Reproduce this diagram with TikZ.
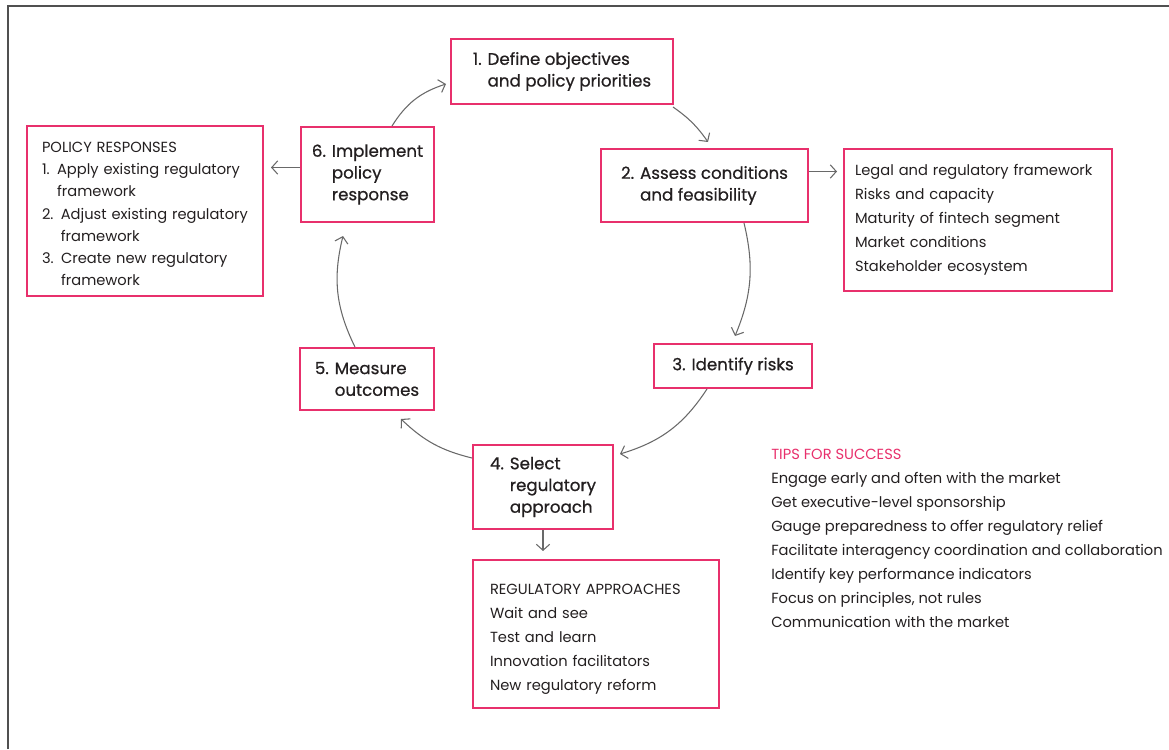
\documentclass[tikz,border=0pt]{standalone}
\usepackage{fontspec}
\setmainfont{Poppins}
\newfontfamily\stepfam{Poppins}[FakeBold=0.7]
\usetikzlibrary{arrows.meta,calc}
\definecolor{pinkline}{RGB}{232,48,108}
\definecolor{ink}{RGB}{35,31,32}
\definecolor{arrowgray}{RGB}{105,105,105}
\definecolor{framegray}{RGB}{80,80,80}

\newcommand{\stepfont}{\stepfam\fontsize{12.5}{16.3}\selectfont}
\newcommand{\listfont}{\fontsize{11}{18}\selectfont}

\tikzset{
  stepbox/.style 2 args={draw=pinkline, line width=1.5pt, inner sep=0pt,
    minimum width=#1, minimum height=#2, align=left, font=\stepfont},
  listbox/.style={draw=pinkline, line width=1.5pt, inner ysep=0pt,
    align=left, font=\listfont},
  flow/.style={draw=arrowgray, line width=0.8pt,
    -{Straight Barb[length=4.5pt,width=10pt]}}
}

\begin{document}
\begin{tikzpicture}[x=0.75pt, y=-0.75pt, text=ink]
  \useasboundingbox (0,0) rectangle (1169,749);
  \draw[framegray, line width=1.5pt] (7.5,749) -- (7.5,6.5) -- (1169,6.5);

  % the six steps of the cycle
  \node[stepbox={166.5pt}{48.75pt}] (s1) at (562,71.5)
    {1. Define objectives\\\phantom{1. }and policy priorities};
  \node[stepbox={155.25pt}{54.75pt}] (s2) at (704.5,185.5)
    {2. Assess conditions\\\phantom{2. }and feasibility};
  \node[stepbox={118.5pt}{33pt}] (s3) at (733,366) {3. Identify risks};
  \node[stepbox={105pt}{63pt}] (s4) at (543,487)
    {4. Select\\\phantom{4. }regulatory\\\phantom{4. }approach};
  \node[stepbox={100.5pt}{46.5pt}] (s5) at (367,379)
    {5. Measure\\\phantom{5. }outcomes};
  \node[stepbox={99.75pt}{71.25pt}] (s6) at (367.5,174.5)
    {6. Implement\\\phantom{6. }policy\\\phantom{6. }response};

  % side boxes
  \node[listbox, inner xsep=11.25pt, text width=154.5pt, minimum height=127.5pt,
        font=\fontsize{11}{16.7}\selectfont] (pol) at (145,211)
    {\rule{0pt}{12.2pt}POLICY RESPONSES\\
     1. Apply existing regulatory\\\phantom{1. }framework\\
     2. Adjust existing regulatory\\\phantom{2. }framework\\
     3. Create new regulatory\\\phantom{3. }framework};
  \node[listbox, inner xsep=8.25pt, text width=184.5pt, minimum height=106.5pt] (legal) at (978,220)
    {Legal and regulatory framework\\
     Risks and capacity\\
     Maturity of fintech segment\\
     Market conditions\\
     Stakeholder ecosystem};
  \node[listbox, inner xsep=12.75pt, text width=159pt, minimum height=111pt] (appr) at (596,634)
    {\rule{0pt}{15pt}REGULATORY APPROACHES\\
     Wait and see\\
     Test and learn\\
     Innovation facilitators\\
     New regulatory reform};
  \node[anchor=north west, inner sep=0pt, align=left, font=\listfont] (tips) at (771,449)
    {\textcolor{pinkline}{TIPS FOR SUCCESS}\\
     Engage early and often with the market\\
     Get executive-level sponsorship\\
     Gauge preparedness to offer regulatory relief\\
     Facilitate interagency coordination and collaboration\\
     Identify key performance indicators\\
     Focus on principles, not rules\\
     Communication with the market};

  % cycle arrows
  \draw[flow] ($(s1.south east)+(-1,2)$) to[bend left=10] ($(s2.north)+(3.5,-6)$);
  \draw[flow] ($(s2.south)+(39.5,0)$) to[bend left=18] ($(s3.north)+(2,-7)$);
  \draw[flow] ($(s3.south)+(-26,0)$) to[bend left=20] ($(s4.north east)+(6,10)$);
  \draw[flow] ($(s4.west)+(0,-29)$) to[bend left=15] ($(s5.south east)+(-34,8)$);
  \draw[flow] ($(s5.north)+(-12,0)$) to[bend left=20] ($(s6.south)+(-24.5,13)$);
  \draw[flow] ($(s6.north)+(24.5,0)$) to[bend left=20] ($(s1.west)+(-4,12.5)$);

  % arrows out to the side boxes
  \draw[flow] ($(s2.east)+(0,-14)$) coordinate (a2) -- ($(legal.west|-a2)+(-6,0)$);
  \draw[flow] ($(s6.west)+(0,-7)$) coordinate (a6) -- ($(pol.east|-a6)+(7,0)$);
  \draw[flow] (s4.south) -- ($(s4.south|-appr.north)+(0,-8)$);
\end{tikzpicture}
\end{document}
